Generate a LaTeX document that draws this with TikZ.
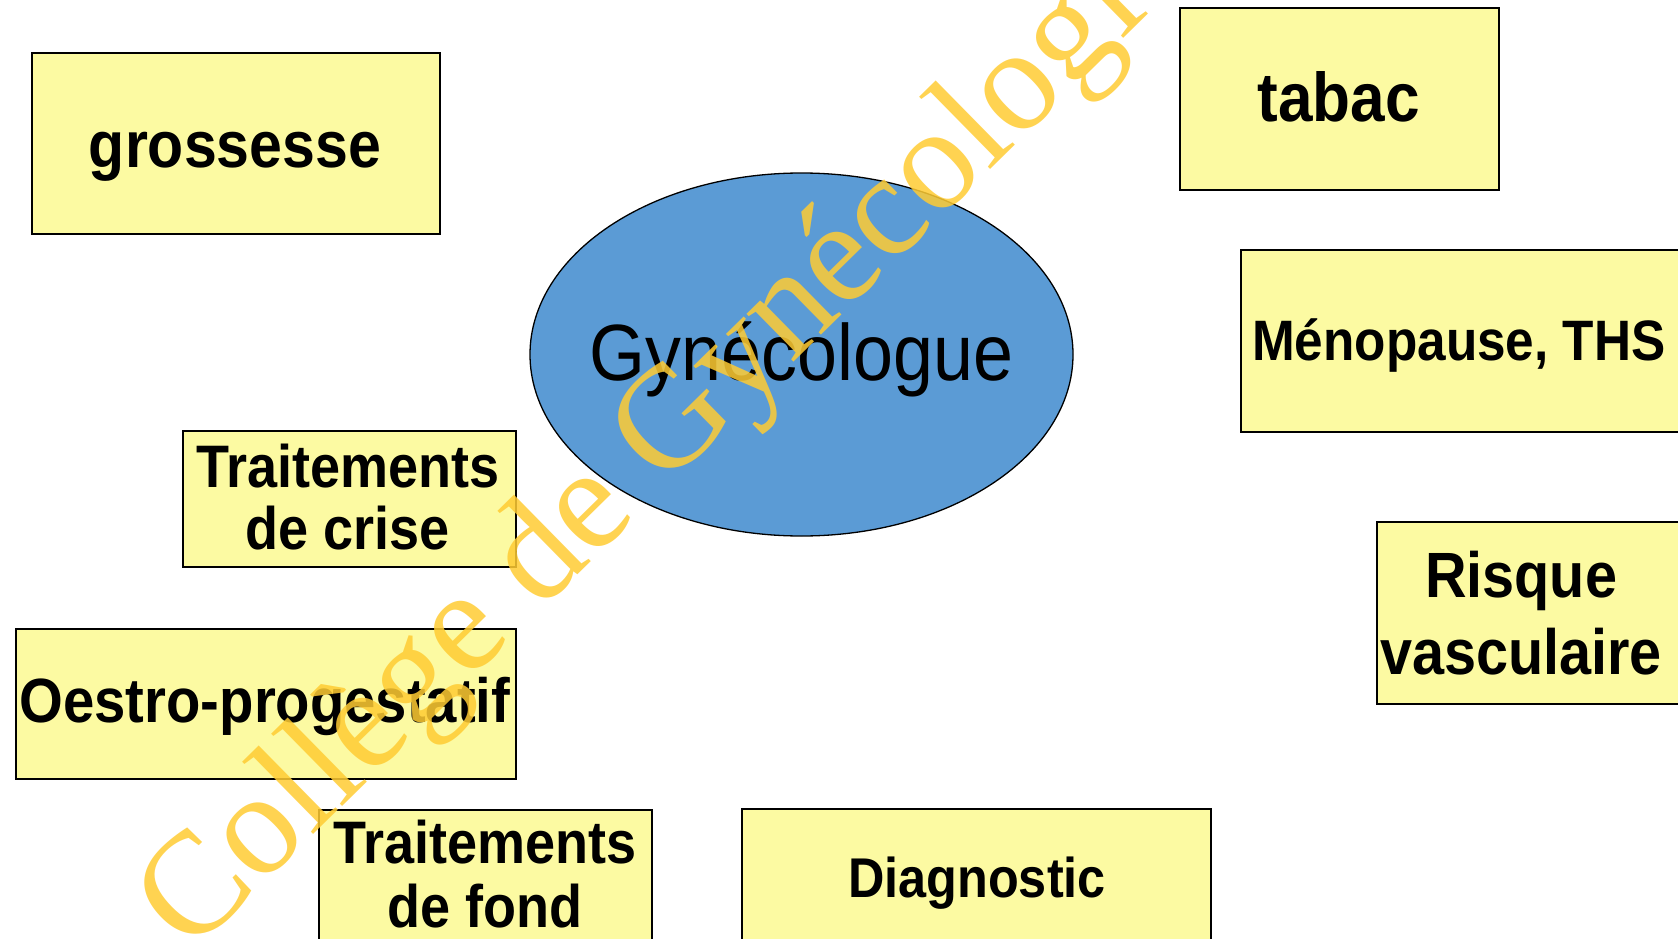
\documentclass[tikz,border=0pt]{standalone}
\usepackage{fontspec}
\setmainfont{Liberation Sans}[FakeStretch=0.9]
\newfontfamily\wmfont{Liberation Serif}
\usetikzlibrary{shapes.geometric}
\definecolor{boxyellow}{RGB}{252,250,162}
\definecolor{ellblue}{RGB}{91,155,213}
\definecolor{wmyellow}{RGB}{255,204,51}
\newcommand{\fsz}[1]{\fontsize{#1}{#1}\selectfont}
\begin{document}
\begin{tikzpicture}[x=1pt,y=-1pt,
  box/.style={draw=black,line width=1.6pt,fill=boxyellow,inner sep=0pt,anchor=north west},
  lbl/.style={inner sep=0pt,anchor=base,text=black,font=\bfseries\fsz{#1}},
  ell/.style={ellipse,draw=black,line width=1.3pt,fill=ellblue,inner sep=0pt,
              minimum width=543pt,minimum height=363pt},
  wm/.style={inner sep=0pt,anchor=base west,rotate=44.5,text=wmyellow,opacity=0.85,
             font=\wmfont\fsz{146}}
]
\useasboundingbox (0,0) rectangle (1678,939);
\clip (0,0) rectangle (1678,939);
\fill[white] (0,0) rectangle (1678,939);

% boxes
\node[box,minimum width=408pt,minimum height=181pt] (gross) at (31,52) {};
\node[box,minimum width=319pt,minimum height=182pt] (tabac) at (1179,7) {};
\node[box,minimum width=560pt,minimum height=182pt] (meno) at (1240,249) {};
\node[box,minimum width=333pt,minimum height=136pt] (crise) at (182,430) {};
\node[box,minimum width=500pt,minimum height=150pt] (oestro) at (15,628) {};
\node[box,minimum width=333pt,minimum height=200pt] (fond) at (318,809) {};
\node[box,minimum width=469pt,minimum height=200pt] (diag) at (741,808) {};
\node[box,minimum width=400pt,minimum height=182pt] (risque) at (1376,521) {};

% ellipse
\node[ell] (gyn) at (801.5,354.5) {};
\node[inner sep=0pt,anchor=base,text=black,font=\fsz{79.8}] (gynT) at (801.5,380) {Gynécologue};

% labels
\node[lbl=65.6] (grossT) at (235,167) {grossesse};
\node[lbl=69] (tabacT) at (1338.5,122) {tabac};
\node[lbl=57,anchor=base west] (menoT) at (1252,360) {Ménopause, THS};
\node[lbl=60] (criseA) at (348,487) {Traitements};
\node[lbl=60] (criseB) at (348,549) {de crise};
\node[lbl=62.5] (oestroT) at (265,722) {Oestro-progestatif};
\node[lbl=60] (fondA) at (485,863) {Traitements};
\node[lbl=60] (fondB) at (485,927) {de fond};
\node[lbl=56] (diagT) at (977,897) {Diagnostic};
\node[lbl=64] (risqueA) at (1521,597) {Risque};
\node[lbl=64] (risqueB) at (1521,674) {vasculaire};

% watermark
\node[wm] (wmark) at (190,956) {Collège de Gynécologie};
\end{tikzpicture}
\end{document}
